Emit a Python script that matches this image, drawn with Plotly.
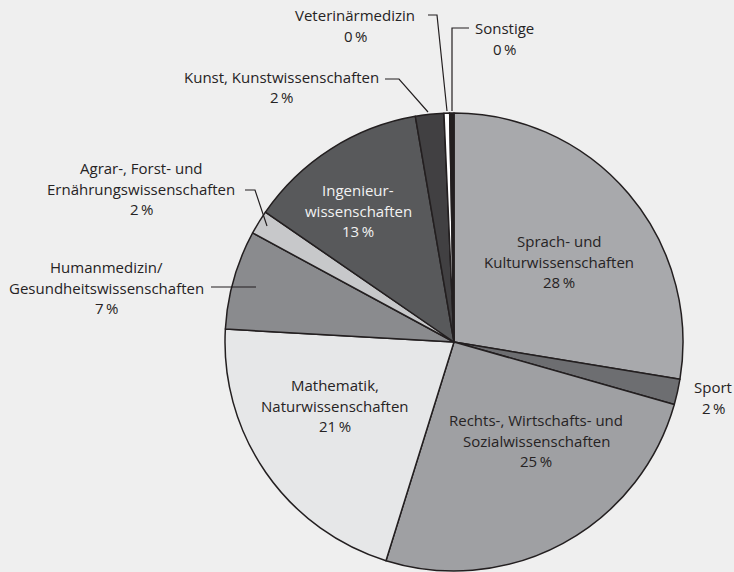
import plotly.graph_objects as go

# ---- data (clockwise from 12 o'clock) ----
categories = [
    "Sprach- und Kulturwissenschaften",
    "Sport",
    "Rechts-, Wirtschafts- und Sozialwissenschaften",
    "Mathematik, Naturwissenschaften",
    "Humanmedizin/Gesundheitswissenschaften",
    "Agrar-, Forst- und Ernährungswissenschaften",
    "Ingenieurwissenschaften",
    "Kunst, Kunstwissenschaften",
    "Veterinärmedizin",
    "Sonstige",
]
values = [27.6, 1.8, 25.4, 21.1, 7.0, 1.7, 12.7, 2.0, 0.4, 0.3]
label_lines = [
    ["Sprach- und", "Kulturwissenschaften", "28\u2009%"],
    ["Sport", "2\u2009%"],
    ["Rechts-, Wirtschafts- und", "Sozialwissenschaften", "25\u2009%"],
    ["Mathematik,", "Naturwissenschaften", "21\u2009%"],
    ["Humanmedizin/", "Gesundheitswissenschaften", "7\u2009%"],
    ["Agrar-, Forst- und", "Ernährungswissenschaften", "2\u2009%"],
    ["Ingenieur-", "wissenschaften", "13\u2009%"],
    ["Kunst, Kunstwissenschaften", "2\u2009%"],
    ["Veterinärmedizin", "0\u2009%"],
    ["Sonstige", "0\u2009%"],
]

# ---- styles ----
colors = ["#a8a9ac", "#6d6e71", "#9fa0a3", "#e6e7e8", "#8a8b8e",
          "#c7c8ca", "#58595b", "#414042", "#ffffff", "#231f20"]
text_colors = ["#262324"] * 10
text_colors[6] = "#f2f2f2"
# label anchor (pixel centre x, first line centre y)
label_pos = [(559, 241), (713, 387), (536, 420), (335, 385), (106, 267),
             (141, 168), (358, 190), (281, 77), (355, 15), (504, 28)]
LINE_H = 20.5
W, H = 734, 572
FONT = "Open Sans"
FS = 15

# leader lines (pixel polylines)
leaders = [
    [(428, 15), (437, 15), (447, 111)],
    [(469, 28), (452, 28), (452, 111)],
    [(385, 79), (399, 79), (428, 112)],
    [(245, 190), (255, 190), (267, 226)],
    [(211, 287), (256, 287)],
]

# ---- geometry of the pie ----
cx, cy, r = 454, 342, 229


def px(x):
    return x / W


def py(y):
    return 1 - y / H


fig = go.Figure(go.Pie(
    labels=categories,
    values=values,
    sort=False,
    direction="clockwise",
    rotation=0,
    marker=dict(colors=colors, line=dict(color="#231f20", width=1.5)),
    textinfo="none",
    hoverinfo="label+percent",
    showlegend=False,
    domain=dict(x=[px(cx - r), px(cx + r)], y=[py(cy + r), py(cy - r)]),
))

annotations = []
for lines, (x0, y0), col in zip(label_lines, label_pos, text_colors):
    for i, t in enumerate(lines):
        annotations.append(dict(
            x=px(x0), y=py(y0 + i * LINE_H), xref="paper", yref="paper",
            text=t, showarrow=False, xanchor="center", yanchor="middle",
            font=dict(family=FONT, size=FS, color=col),
        ))

shapes = []
for pts in leaders:
    path = "M " + " L ".join(f"{px(x)},{py(y)}" for x, y in pts)
    shapes.append(dict(type="path", path=path, xref="paper", yref="paper",
                       line=dict(color="#231f20", width=1.2)))

fig.update_layout(
    width=W, height=H,
    margin=dict(l=0, r=0, t=0, b=0),
    paper_bgcolor="#efefef",
    plot_bgcolor="#efefef",
    annotations=annotations,
    shapes=shapes,
)

fig.write_html(
    "out.html",
    config={"displayModeBar": False},
    post_script="document.body.style.margin='0';"
                "document.body.style.background='#efefef';"
                "document.body.style.overflow='hidden';",
)
